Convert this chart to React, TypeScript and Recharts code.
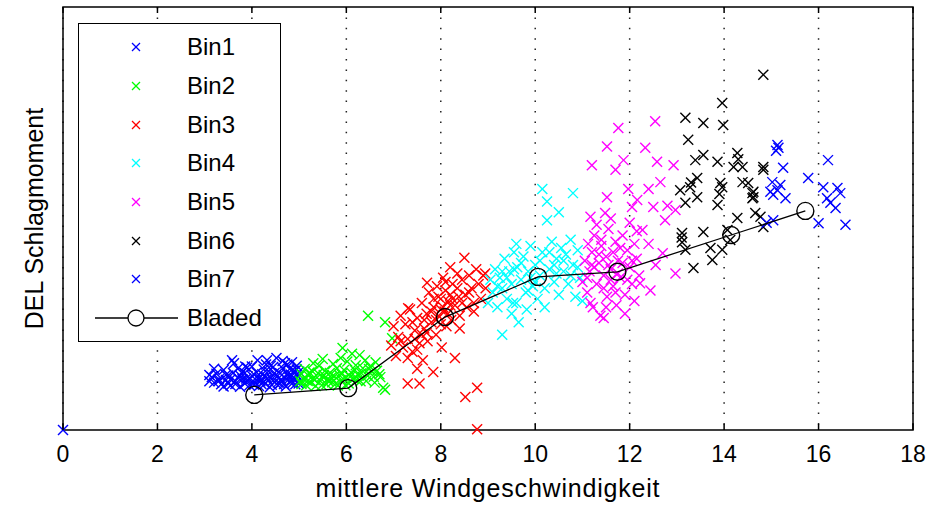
import { ScatterChart, Scatter, XAxis, YAxis, CartesianGrid, ReferenceArea, Legend, Label } from "recharts";

const FONT = "'Liberation Sans', Arial, sans-serif";

// x: mittlere Windgeschwindigkeit, y: DEL Schlagmoment (normiert, 0..100)
const xTicks = [0, 2, 4, 6, 8, 10, 12, 14, 16, 18];

const bin1: number[][] = [
  [0, 0],
  [3.15, 12.5], [3.2, 11.2], [3.25, 13.3], [3.3, 12.0], [3.35, 10.8], [3.4, 14.2], [3.45, 11.8], [3.5, 12.9],
  [3.55, 10.5], [3.6, 13.5], [3.62, 15.8], [3.65, 11.5], [3.7, 12.4], [3.75, 10.2], [3.8, 13.8], [3.85, 11.0],
  [3.88, 12.2], [3.9, 14.8], [3.95, 10.6], [4.0, 12.8], [4.05, 11.3], [4.1, 13.6], [4.12, 16.5], [4.15, 10.4],
  [4.2, 12.0], [4.25, 14.3], [4.28, 11.0], [4.3, 12.6], [4.35, 13.9], [4.38, 10.1], [4.4, 15.2], [4.45, 11.7],
  [4.5, 12.9], [4.52, 17.0], [4.55, 10.6], [4.6, 13.4], [4.62, 11.9], [4.65, 14.6], [4.7, 12.3], [4.72, 10.3],
  [4.75, 15.5], [4.8, 11.4], [4.82, 13.1], [4.85, 16.0], [4.88, 12.0], [4.9, 14.0], [4.92, 10.8], [4.95, 15.2],
  [4.98, 12.7], [5.0, 13.8], [3.9, 11.6], [4.2, 10.9], [4.55, 11.2], [4.75, 13.2], [3.7, 14.5], [4.0, 15.0],
  [4.45, 14.9], [4.8, 14.4], [3.1, 13.0], [4.65, 16.3], [3.58, 16.5], [4.32, 16.5], [3.86, 15.0], [4.7, 15.8],
  [3.3, 11.6], [3.45, 13.0], [3.55, 12.0], [3.65, 10.9], [3.75, 12.9], [3.85, 13.5], [3.95, 12.0], [4.05, 10.7],
  [4.1, 12.5], [4.18, 11.5], [4.22, 13.2], [4.32, 12.1], [4.42, 10.7], [4.48, 13.5], [4.58, 12.4], [4.68, 10.9],
  [4.78, 12.6], [4.86, 11.1], [4.94, 13.0], [4.99, 11.0], [3.4, 10.3], [3.2, 14.5], [3.1, 11.5],
  [3.5, 11.0], [3.8, 12.0], [4.15, 12.2], [4.4, 12.3], [4.6, 11.0], [4.85, 12.8], [4.95, 14.3], [4.3, 15.5],
];

const bin2: number[][] = [
  [5.02, 11.5], [5.05, 13.2], [5.1, 12.0], [5.12, 14.4], [5.15, 10.6], [5.2, 12.8], [5.25, 11.2], [5.28, 13.9],
  [5.3, 12.2], [5.35, 10.4], [5.4, 13.4], [5.42, 15.2], [5.45, 11.6], [5.5, 12.6], [5.55, 14.0], [5.58, 10.8],
  [5.6, 12.0], [5.65, 13.5], [5.7, 11.3], [5.72, 15.6], [5.75, 12.7], [5.8, 14.6], [5.82, 10.5], [5.85, 13.0],
  [5.88, 17.0], [5.9, 11.8], [5.92, 19.4], [5.95, 14.2], [6.0, 12.4], [6.02, 16.2], [6.05, 11.0], [6.1, 13.6],
  [6.12, 18.0], [6.15, 12.2], [6.2, 15.3], [6.25, 13.0], [6.28, 17.7], [6.3, 11.5], [6.35, 14.6], [6.4, 16.5],
  [6.45, 12.8], [6.5, 15.0], [6.55, 13.8], [6.6, 11.2], [6.65, 14.0], [6.72, 12.5], [6.78, 10.0], [6.82, 25.5],
  [6.46, 27.0], [6.97, 21.7], [6.82, 9.5], [5.5, 16.8], [5.3, 15.8],
  [5.05, 10.9], [5.18, 11.6], [5.22, 13.6], [5.33, 11.8], [5.48, 10.6], [5.52, 13.0], [5.62, 11.5], [5.68, 12.4],
  [5.78, 11.0], [5.9, 13.2], [5.98, 10.6], [6.08, 12.6], [6.18, 14.2], [6.22, 11.8], [6.32, 13.4], [6.42, 11.6],
  [6.48, 14.4], [6.58, 12.6], [6.62, 16.0], [6.7, 13.2],
];

const bin3: number[][] = [
  [6.95, 20.0], [7.0, 24.5], [7.05, 17.5], [7.1, 22.0], [7.15, 27.0], [7.2, 19.5], [7.25, 25.0], [7.3, 21.5],
  [7.3, 11.0], [7.35, 28.5], [7.4, 18.5], [7.45, 23.5], [7.5, 26.5], [7.55, 11.0], [7.55, 20.5], [7.6, 30.0],
  [7.62, 16.5], [7.65, 24.0], [7.7, 27.5], [7.72, 21.0], [7.75, 32.5], [7.8, 25.5], [7.84, 13.7], [7.85, 29.0],
  [7.9, 22.5], [7.92, 34.0], [7.95, 27.0], [8.0, 31.0], [8.02, 19.5], [8.05, 36.0], [8.08, 28.0], [8.1, 33.0],
  [8.12, 24.5], [8.15, 30.5], [8.2, 38.5], [8.22, 26.0], [8.25, 34.5], [8.3, 29.5], [8.3, 17.0], [8.35, 37.0],
  [8.38, 31.5], [8.4, 27.0], [8.45, 35.5], [8.5, 40.7], [8.52, 7.8], [8.52, 32.0], [8.55, 29.0], [8.6, 36.5],
  [8.65, 33.5], [8.7, 30.0], [8.75, 38.0], [8.77, 10.0], [8.77, 0.2], [8.8, 34.5], [8.85, 31.0], [8.9, 36.5],
  [8.94, 37.0], [8.95, 33.5], [7.5, 14.5], [7.3, 17.0], [8.0, 25.0], [7.71, 34.8], [7.31, 28.8],
  [7.4, 25.5], [7.6, 22.5], [7.8, 28.0], [7.95, 31.5], [8.05, 29.0], [8.15, 27.5], [8.25, 31.0], [8.35, 33.5],
  [8.45, 30.0], [8.6, 32.5], [7.9, 26.0], [8.1, 35.0], [8.2, 32.0], [7.7, 23.0], [7.5, 19.0], [7.15, 21.0],
  [8.4, 24.0], [8.7, 28.0], [7.85, 31.0], [8.0, 28.5], [8.2, 29.5], [7.65, 26.0], [7.45, 21.5],
];

const bin4: number[][] = [
  [9.0, 30.0], [9.05, 35.5], [9.1, 32.5], [9.15, 38.0], [9.2, 29.0], [9.25, 36.0], [9.3, 22.5], [9.3, 33.5],
  [9.35, 40.5], [9.4, 31.0], [9.45, 37.5], [9.5, 27.5], [9.5, 34.5], [9.55, 42.0], [9.6, 30.0], [9.62, 38.5],
  [9.65, 25.5], [9.7, 35.5], [9.75, 41.0], [9.8, 32.5], [9.82, 28.5], [9.85, 37.5], [9.9, 43.5], [9.95, 34.0],
  [10.0, 39.0], [10.05, 31.0], [10.1, 36.5], [10.15, 57.0], [10.15, 42.0], [10.2, 33.5], [10.25, 54.0],
  [10.25, 49.6], [10.3, 38.0], [10.35, 44.5], [10.4, 35.0], [10.45, 40.5], [10.5, 51.5], [10.5, 32.0],
  [10.55, 43.0], [10.6, 37.5], [10.65, 41.5], [10.7, 34.5], [10.75, 45.0], [10.8, 56.0], [10.8, 39.0],
  [10.85, 31.5], [10.9, 42.5], [10.95, 36.0], [11.0, 30.5], [10.2, 29.0], [9.6, 44.0], [9.53, 30.0],
  [9.2, 34.0], [9.4, 36.0], [9.55, 38.0], [9.7, 39.5], [9.85, 33.0], [10.0, 35.0], [10.1, 40.0], [10.3, 42.0],
  [10.45, 37.0], [10.6, 40.0], [10.75, 36.5], [10.9, 38.5], [9.9, 36.0], [10.4, 39.0], [9.3, 37.5],
];

const bin5: number[][] = [
  [11.0, 35.0], [11.05, 40.0], [11.1, 32.5], [11.12, 44.0], [11.15, 37.5], [11.2, 42.0], [11.22, 29.0],
  [11.25, 46.0], [11.3, 34.5], [11.35, 39.5], [11.38, 27.0], [11.4, 43.5], [11.45, 36.5], [11.5, 41.0],
  [11.52, 31.5], [11.55, 47.5], [11.6, 38.0], [11.65, 34.0], [11.7, 44.5], [11.72, 29.5], [11.75, 40.0],
  [11.8, 36.0], [11.85, 46.0], [11.9, 32.0], [11.95, 42.5], [12.0, 38.5], [12.05, 34.5], [12.1, 44.0],
  [12.15, 40.5], [12.2, 36.5], [11.3, 48.5], [11.6, 50.0], [11.45, 26.5], [11.9, 27.5], [12.1, 30.5],
  [12.54, 73.0], [11.76, 71.4], [11.52, 67.0], [12.33, 66.7], [11.2, 62.6], [11.7, 61.5], [11.87, 63.8],
  [12.58, 63.4], [12.93, 62.6], [11.97, 57.0], [12.4, 57.0], [12.65, 58.6], [11.52, 55.0], [12.16, 54.4],
  [12.5, 52.7], [12.8, 53.0], [12.97, 52.0], [11.17, 50.4], [11.48, 51.3], [12.05, 52.7], [12.75, 49.6],
  [12.27, 47.3], [12.97, 37.0], [12.22, 34.7], [12.44, 33.0], [11.17, 30.0], [12.7, 41.8], [12.4, 44.0],
  [12.55, 39.0], [11.1, 36.0], [11.25, 38.5], [11.35, 41.5], [11.45, 33.5], [11.55, 39.0], [11.65, 42.0],
  [11.75, 37.0], [11.85, 39.5], [11.95, 35.5], [12.05, 40.0], [11.4, 45.0], [11.6, 35.5], [11.8, 43.0],
  [11.2, 39.0], [11.5, 29.0], [11.7, 32.5], [12.15, 47.0], [12.0, 49.0],
];

const bin6: number[][] = [
  [14.83, 84.0], [13.96, 77.3], [13.18, 73.8], [13.56, 72.6], [13.98, 72.1], [13.24, 68.6], [14.28, 65.5],
  [13.56, 65.0], [13.39, 63.8], [13.86, 63.4], [14.2, 62.2], [14.39, 62.2], [14.83, 62.2], [13.43, 59.6],
  [13.28, 57.4], [13.07, 56.7], [13.92, 58.4], [13.96, 57.4], [14.51, 58.4], [14.6, 56.0], [14.62, 55.0],
  [13.18, 53.7], [13.43, 55.0], [13.86, 53.2], [14.66, 51.3], [14.77, 50.4], [14.28, 50.1], [14.83, 48.0],
  [13.11, 46.6], [13.56, 46.8], [13.11, 44.4], [14.07, 47.3], [14.13, 44.9], [13.71, 43.0], [13.96, 42.6],
  [13.18, 42.6], [13.75, 40.2], [13.35, 38.3], [14.83, 61.5], [14.39, 58.6], [14.62, 56.3], [14.6, 54.8],
  [13.9, 55.8], [14.3, 64.0], [13.3, 58.5], [13.1, 45.5],
];

const bin7: number[][] = [
  [15.13, 67.4], [15.15, 66.7], [15.1, 66.0], [15.25, 62.0], [15.78, 59.6], [15.02, 58.6], [15.19, 57.9],
  [15.13, 56.7], [14.98, 56.3], [15.3, 54.8], [15.04, 55.6], [16.2, 63.8], [16.1, 57.4], [16.4, 57.2],
  [16.46, 56.0], [16.18, 54.8], [16.25, 53.7], [16.36, 52.5], [16.0, 48.9], [16.57, 48.5], [15.04, 49.6],
  [14.9, 49.0],
];

const bladed: number[][] = [
  [4.05, 8.3], [6.04, 9.9], [8.09, 26.7], [10.06, 36.2], [11.74, 37.4], [14.15, 46.1], [15.72, 51.8],
];

const binNames = ["Bin1", "Bin2", "Bin3", "Bin4", "Bin5", "Bin6", "Bin7"];
const binColors = ["#0000ff", "#00ff00", "#ff0000", "#00ffff", "#ff00ff", "#000000", "#0000ff"];
const bins = [bin1, bin2, bin3, bin4, bin5, bin6, bin7];

const toPts = (arr: number[][]) => arr.map(([x, y]) => ({ x, y }));

function Cross(props: any) {
  const { cx, cy, fill } = props;
  const s = 5;
  return (
    <g>
      <line x1={cx - s} y1={cy - s} x2={cx + s} y2={cy + s} stroke={fill} strokeWidth={1.4} />
      <line x1={cx - s} y1={cy + s} x2={cx + s} y2={cy - s} stroke={fill} strokeWidth={1.4} />
    </g>
  );
}

function Circle(props: any) {
  return <circle cx={props.cx} cy={props.cy} r={8.5} fill="none" stroke="#000" strokeWidth={1.4} />;
}

function BottomTick(props: any) {
  const { x, y, payload, top } = props;
  return (
    <g>
      <line x1={x} y1={y} x2={x} y2={y - 6} stroke="#000" strokeWidth={1.5} />
      <line x1={x} y1={top} x2={x} y2={top + 6} stroke="#000" strokeWidth={1.5} />
      <text x={x} y={y + 32} textAnchor="middle" fontSize={23} fontFamily={FONT} fill="#000">
        {payload.value}
      </text>
    </g>
  );
}

function XTitle(props: any) {
  const vb = props.viewBox;
  return (
    <text x={vb.x + vb.width / 2} y={497} textAnchor="middle" fontSize={25} fontFamily={FONT} letterSpacing={0.8} fill="#000">
      mittlere Windgeschwindigkeit
    </text>
  );
}

function YTitle(props: any) {
  const vb = props.viewBox;
  const cx = vb.x + 43;
  const cy = vb.y + vb.height / 2;
  return (
    <text x={cx} y={cy} transform={`rotate(-90, ${cx}, ${cy})`} textAnchor="middle" fontSize={25} fontFamily={FONT} fill="#000">
      DEL Schlagmoment
    </text>
  );
}

function LegendBox() {
  const rowH = 38.7;
  return (
    <div
      style={{
        width: 203, height: 319, border: "1.5px solid #000", background: "#fff",
        boxSizing: "border-box", paddingTop: 4, fontFamily: FONT, color: "#000",
      }}
    >
      {binNames.map((name, i) => (
        <div key={name} style={{ height: rowH, display: "flex", alignItems: "center" }}>
          <svg width={108} height={20} style={{ flex: "none" }}>
            <line x1={53} y1={6} x2={61} y2={14} stroke={binColors[i]} strokeWidth={1.3} />
            <line x1={53} y1={14} x2={61} y2={6} stroke={binColors[i]} strokeWidth={1.3} />
          </svg>
          <span style={{ fontSize: 24 }}>{name}</span>
        </div>
      ))}
      <div style={{ height: rowH, display: "flex", alignItems: "center" }}>
        <svg width={108} height={20} style={{ flex: "none" }}>
          <line x1={16} y1={10} x2={99} y2={10} stroke="#000" strokeWidth={1.3} />
          <circle cx={57} cy={10} r={8} fill="#fff" stroke="#000" strokeWidth={1.3} />
        </svg>
        <span style={{ fontSize: 24 }}>Bladed</span>
      </div>
    </div>
  );
}

export default function App() {
  return (
    <div style={{ position: "absolute", left: 0, top: 0, width: 944, height: 505, background: "#fff" }}>
      <ScatterChart width={944} height={505} margin={{ top: 7, right: 31, bottom: 0, left: 0 }}>
        <CartesianGrid horizontal={false} stroke="#222" strokeDasharray="1.5 8.9" strokeWidth={1.5} />
        <XAxis
          type="number" dataKey="x" domain={[0, 18]} ticks={xTicks} height={75}
          axisLine={false} tickLine={false} tickSize={0} tickMargin={0} tick={<BottomTick top={7} />}
        >
          <Label content={<XTitle />} />
        </XAxis>
        <YAxis type="number" dataKey="y" domain={[0, 100]} width={63} axisLine={false} tickLine={false} tick={false}>
          <Label content={<YTitle />} />
        </YAxis>
        <ReferenceArea x1={0} x2={18} y1={0} y2={100} fill="none" stroke="#000" strokeWidth={1.5} />
        {bins.map((b, i) => (
          <Scatter
            key={binNames[i]} name={binNames[i]} data={toPts(b)} fill={binColors[i]}
            shape={<Cross />} isAnimationActive={false}
          />
        ))}
        <Scatter
          name="Bladed" data={toPts(bladed)} fill="#000" line={{ stroke: "#000", strokeWidth: 1.3 }}
          shape={<Circle />} isAnimationActive={false}
        />
        <Legend
          layout="horizontal" verticalAlign="middle" align="center" content={<LegendBox />}
          wrapperStyle={{ position: "absolute", left: 78, top: 23, width: 203, height: 319 }}
        />
      </ScatterChart>
    </div>
  );
}
